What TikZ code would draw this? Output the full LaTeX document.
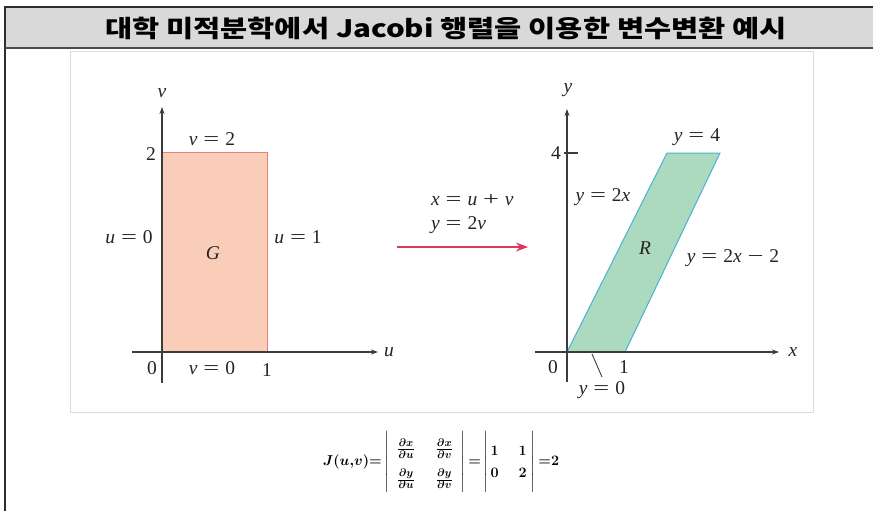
\documentclass[tikz,border=0pt]{standalone}
\usepackage{fontspec}
\usepackage{amsmath}
\usepackage{graphicx}
\setmainfont{Liberation Serif}
\newfontfamily\krfont{Noto Sans CJK KR}
\usetikzlibrary{arrows.meta}
\definecolor{hdr}{RGB}{217,217,217}
\definecolor{frm}{RGB}{45,45,45}
\definecolor{hdrline}{RGB}{75,75,75}
\definecolor{pnl}{RGB}{220,220,220}
\definecolor{axc}{RGB}{60,60,60}
\definecolor{txt}{RGB}{35,35,35}
\definecolor{gfill}{RGB}{250,205,185}
\definecolor{gedge}{RGB}{232,125,112}
\definecolor{rfill}{RGB}{172,218,190}
\definecolor{redge}{RGB}{70,178,212}
\definecolor{arr}{RGB}{222,55,90}
\newcommand\eqs{\hspace{0.3em}\scalebox{1.45}[1]{=}\hspace{0.3em}}
\newcommand\pls{\hspace{0.3em}\scalebox{1.45}[1]{+}\hspace{0.3em}}
\newcommand\mns{\hspace{0.3em}\scalebox{1.45}[1]{−}\hspace{0.3em}}
\newsavebox\jacbox
\begin{document}
\sbox\jacbox{\fontsize{15.5}{18}\selectfont\boldmath\renewcommand{\arraystretch}{1.7}%
$J(u{,}v){=}\left|\begin{array}{@{\hspace{8pt}}c@{\hspace{21pt}}c@{\hspace{8pt}}}
   \frac{\partial x}{\partial u} & \frac{\partial x}{\partial v}\\
   \frac{\partial y}{\partial u} & \frac{\partial y}{\partial v}
  \end{array}\right|{=}\left|\vrule width 0pt height 33pt depth 26pt\renewcommand{\arraystretch}{1.25}\begin{array}{@{\hspace{2pt}}c@{\hspace{20pt}}c@{\hspace{4pt}}}
   1 & 1\\ 0 & 2\end{array}\right|{=}2$}%
\begin{tikzpicture}[x=1pt,y=-1pt,
  lbl/.style={inner sep=0pt,text=txt,font=\fontsize{19.5}{22}\selectfont},
  axisline/.style={draw=axc,line width=1.1pt},
  axisarrow/.style={axisline,-{Stealth[length=7pt,width=5pt]}},
  maparrow/.style={draw=arr,line width=1.4pt,-{Stealth[length=12pt,width=9pt]}}]
\useasboundingbox (0,0) rectangle (873,511);
% header and frame
\path[fill=hdr] (5,7) rectangle (873,48);
\draw[frm,line width=1.2pt] (873,7) -- (5,7) -- (5,511);
\draw[hdrline,line width=2pt] (5,48) -- (873,48);
\node[inner sep=0pt,text=black,font=\krfont\bfseries\fontsize{24}{26}\selectfont] (title) at (446,28)
  {\scalebox{1.23}[1]{대학 미적분학에서 Jacobi 행렬을 이용한 변수변환 예시}};
% panel
\draw[pnl,line width=1pt] (70,52) rectangle (813,412);

% ---------- left graph ----------
\coordinate (G0) at (162,352);
\coordinate (G1) at (267,352);
\coordinate (G2) at (267,152);
\coordinate (G3) at (162,152);
\coordinate (vbot) at (162,383);
\coordinate (vtop) at (162,107);
\coordinate (uleft) at (132,352);
\coordinate (uright) at (378,352);
\fill[gfill] (G0) -- (G1) -- (G2) -- (G3) -- cycle;
\draw[gedge,line width=1pt] (G0) -- (G1) -- (G2) -- (G3);
\draw[axisarrow] (vbot) -- (vtop);
\draw[axisarrow] (uleft) -- (uright);
\node[lbl] (vlab) at (162,93) {\textit{v}};
\node[lbl] (v2) at (212,139) {\textit{v}\eqs 2};
\node[lbl] (two) at (151,154) {2};
\node[lbl] (u0) at (129,237) {\textit{u}\eqs 0};
\node[lbl] (G) at (213,253) {\textit{G}};
\node[lbl] (u1) at (298,237) {\textit{u}\eqs 1};
\node[lbl] (zeroL) at (152,368) {0};
\node[lbl] (v0) at (212,368) {\textit{v}\eqs 0};
\node[lbl] (oneL) at (267,370) {1};
\node[lbl] (ulab) at (389,352) {\textit{u}};

% ---------- middle ----------
\node[lbl,anchor=west] (mapx) at (431,200) {\textit{x}\eqs\textit{u}\pls\textit{v}};
\node[lbl,anchor=west] (mapy) at (431,225) {\textit{y}\eqs 2\textit{v}};
\coordinate (aL) at (397,247);
\coordinate (aR) at (528,247);
\draw[maparrow] (aL) -- (aR);

% ---------- right graph ----------
\coordinate (R0) at (567,352);
\coordinate (R1) at (625,352);
\coordinate (R2) at (720,153);
\coordinate (R3) at (667,153);
\coordinate (ybot) at (567,382);
\coordinate (ytop) at (567,109);
\coordinate (xleft) at (535,352);
\coordinate (xright) at (779,352);
\coordinate (tickA) at (564,153);
\coordinate (tickB) at (578,153);
\fill[rfill] (R0) -- (R1) -- (R2) -- (R3) -- cycle;
\draw[redge,line width=1pt] (R0) -- (R1) -- (R2) -- (R3) -- cycle;
\draw[axisarrow] (ybot) -- (ytop);
\draw[axisarrow] (xleft) -- (xright);
\draw[axisline] (tickA) -- (tickB);
\node[lbl] (ylab) at (568,90) {\textit{y}};
\node[lbl] (four) at (556,153) {4};
\node[lbl] (y4) at (697,137) {\textit{y}\eqs 4};
\node[lbl] (y2x) at (603,197) {\textit{y}\eqs 2\textit{x}};
\node[lbl] (R) at (645,248) {\textit{R}};
\node[lbl] (y2x2) at (733,258) {\textit{y}\eqs 2\textit{x}\mns 2};
\node[lbl] (zeroR) at (553,367) {0};
\node[lbl] (oneR) at (624,367) {1};
\node[lbl] (y0) at (602,390) {\textit{y}\eqs 0};
\node[lbl] (xlab) at (793,352) {\textit{x}};
\coordinate (pA) at (592,354);
\coordinate (pB) at (602,377);
\draw[axc,line width=0.9pt] (pA) -- (pB);

% ---------- Jacobian ----------
\node[inner sep=0pt] (jac) at (441,462) {\usebox\jacbox};
\end{tikzpicture}
\end{document}
